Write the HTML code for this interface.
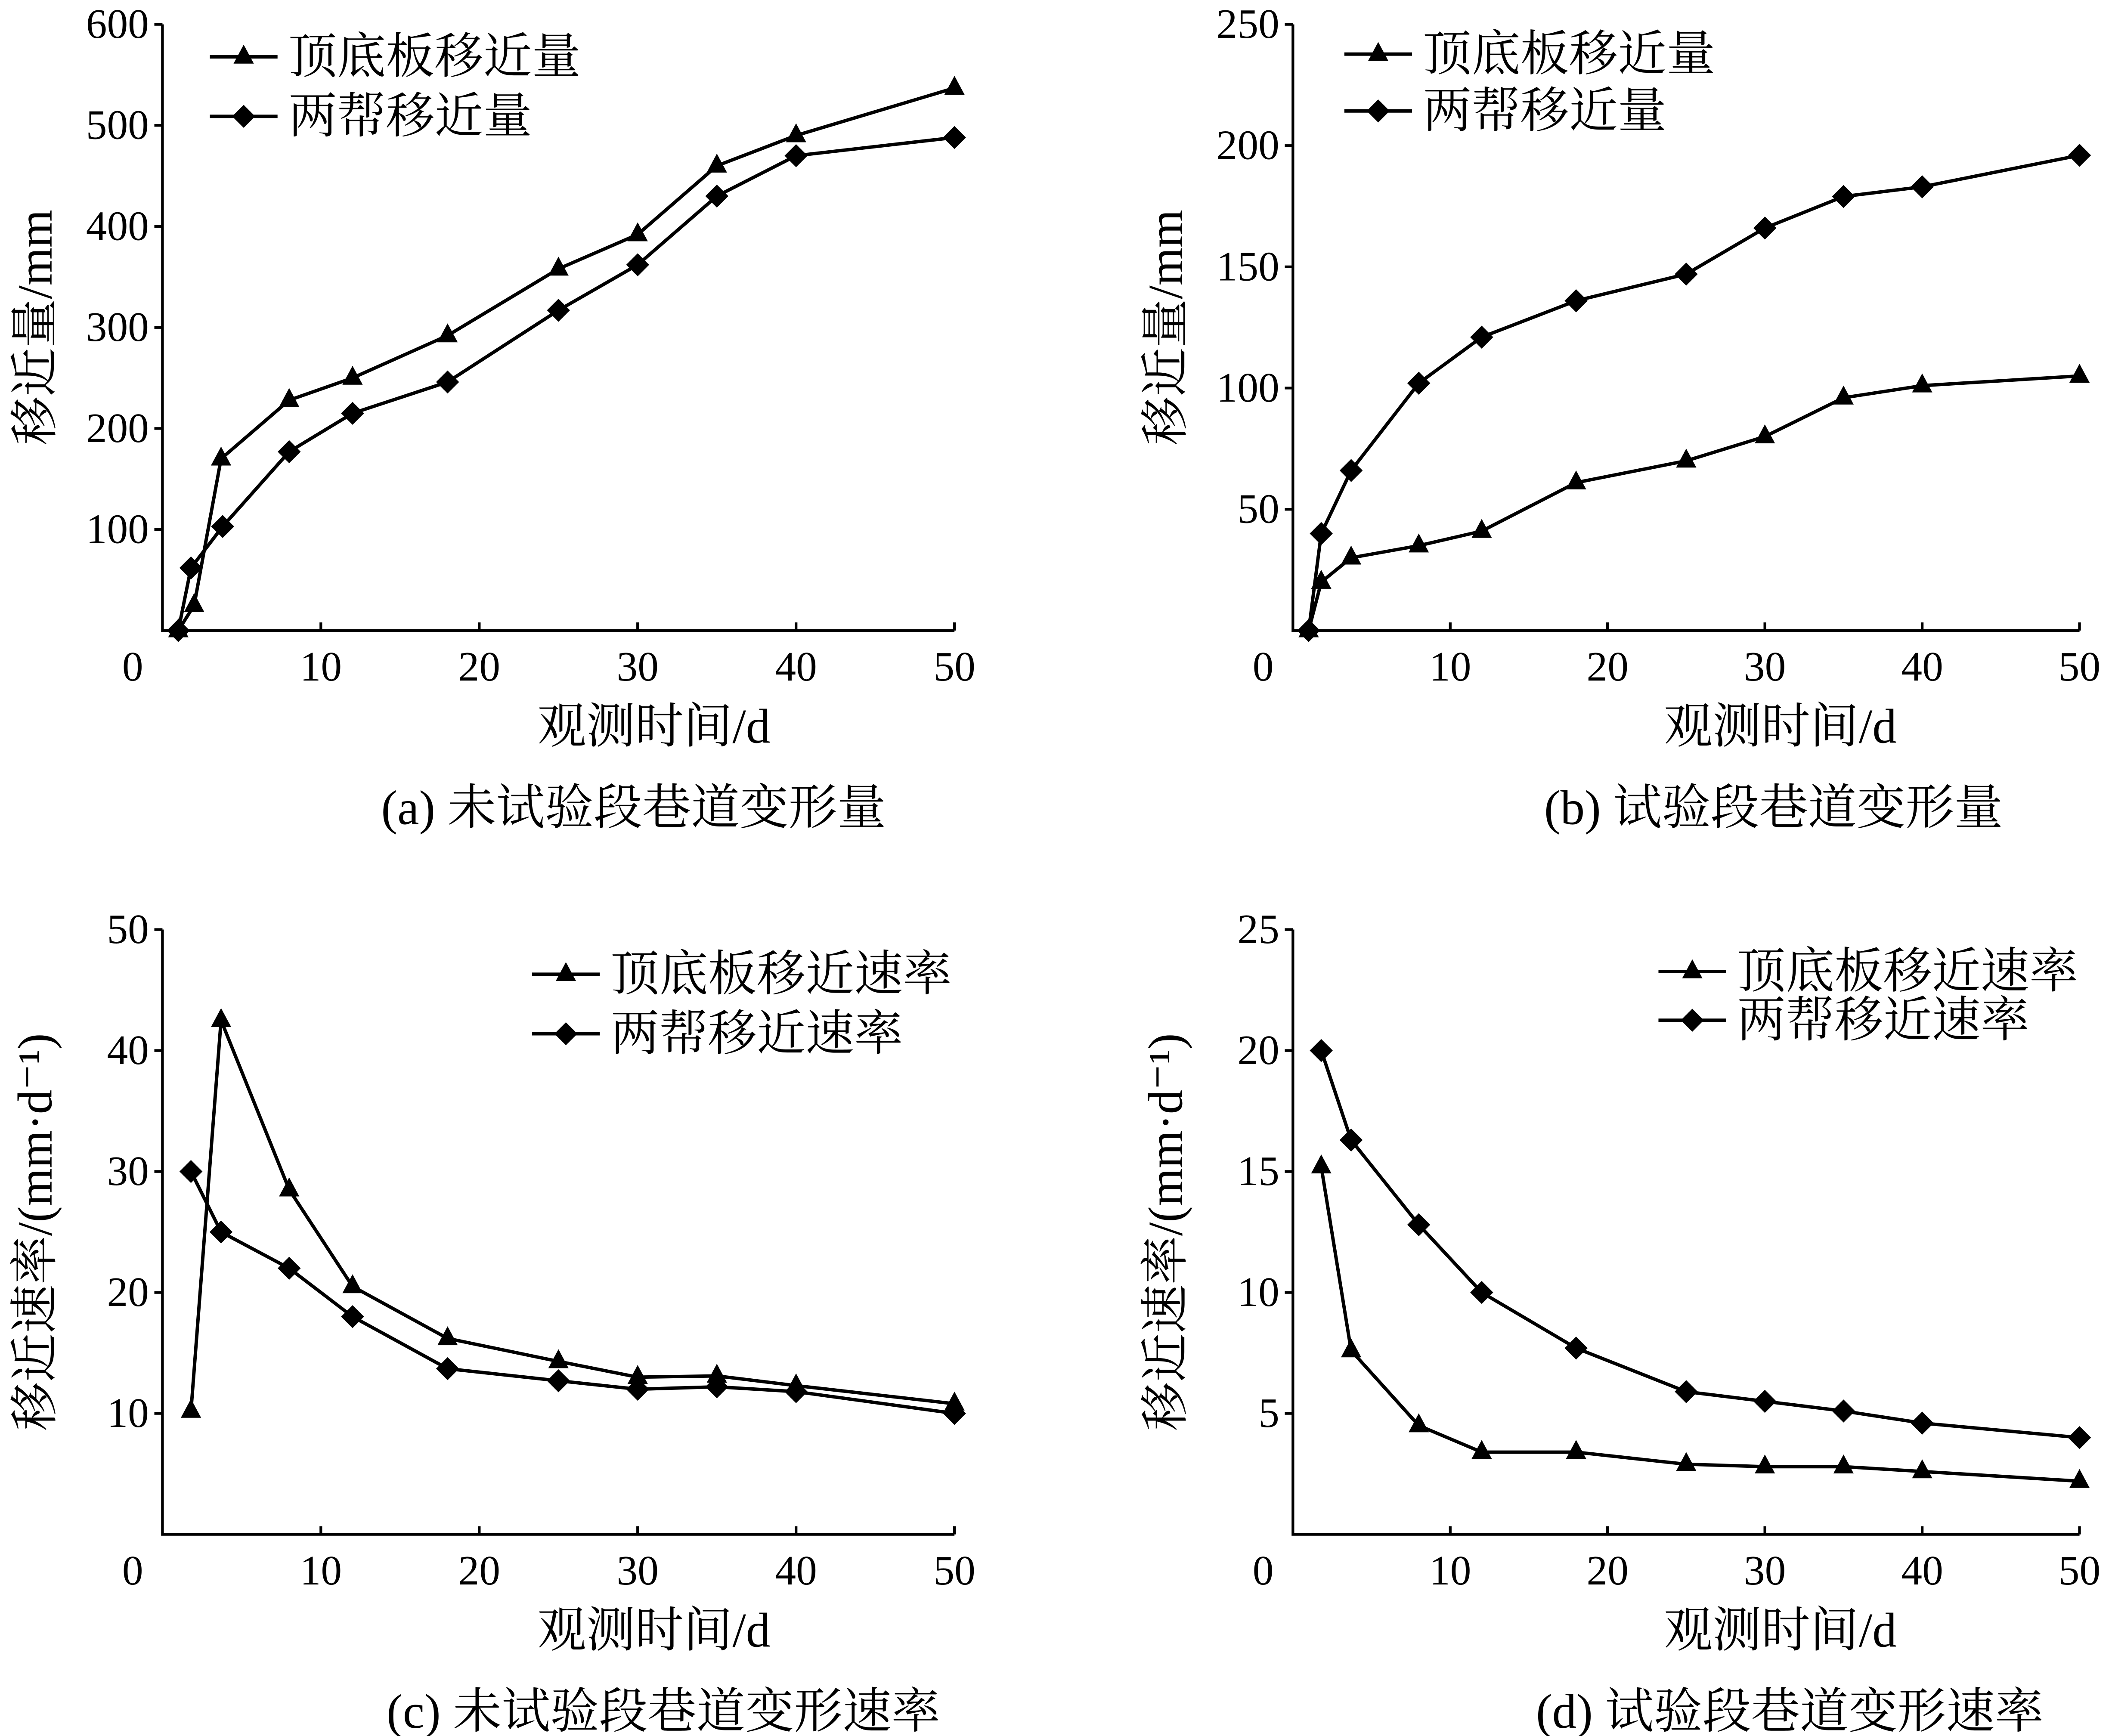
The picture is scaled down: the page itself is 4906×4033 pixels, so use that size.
<!DOCTYPE html>
<html><head><meta charset="utf-8">
<style>
html,body{margin:0;padding:0;background:#fff;}
svg{display:block;}
text{font-family:"Liberation Serif","Noto Serif CJK SC",serif;fill:#000;}
</style></head>
<body>
<svg id="chart" width="4906" height="4033" viewBox="0 0 1560 1283" preserveAspectRatio="none" xmlns="http://www.w3.org/2000/svg"></svg>
<script>
const xTicks=[0,10,20,30,40,50];
// panel a
const aX1=[1,2,3.7,8,12,18,25,30,35,40,50];
const aTri=[0,25,170,228,250,292,358,392,460,490,537];
const aX2=[1,1.8,3.8,8,12,18,25,30,35,40,50];
const aDia=[0,62,103,177,215,246,317,362,430,470,488];
const aYTicks=[100,200,300,400,500,600];
// panel b
const bX=[1,1.8,3.7,8,12,18,25,30,35,40,50];
const bTri=[0,20,30,35,41,61,70,80,96,101,105];
const bDia=[0,40,66,102,121,136,147,166,179,183,196];
const bYTicks=[50,100,150,200,250];
// panel c
const cX=[1.8,3.7,8,12,18,25,30,35,40,50];
const cTri=[10.2,42.5,28.5,20.5,16.2,14.3,13,13.1,12.3,10.8];
const cDia=[30,25,22,18,13.7,12.7,12,12.2,11.8,10];
const cYTicks=[10,20,30,40,50];
// panel d
const dX=[1.8,3.7,8,12,18,25,30,35,40,50];
const dTri=[15.2,7.6,4.5,3.4,3.4,2.9,2.8,2.8,2.6,2.2];
const dDia=[20,16.3,12.8,10,7.7,5.9,5.5,5.1,4.6,4];
const dYTicks=[5,10,15,20,25];

const NS="http://www.w3.org/2000/svg";
const svg=document.getElementById('chart');
function mk(tag,attrs,parent){const e=document.createElementNS(NS,tag);for(const k in attrs)e.setAttribute(k,attrs[k]);(parent||svg).appendChild(e);return e;}
function txt(s,x,y,size,anchor,parent,rot){const t=mk('text',{x:x,y:y,'font-size':size,'text-anchor':anchor||'middle'},parent);if(rot)t.setAttribute('transform','rotate(-90 '+x+' '+y+')');t.textContent=s;return t;}
function tri(g,x,y){return mk('polygon',{points:(x)+','+(y-9)+' '+(x-7.5)+','+(y+5)+' '+(x+7.5)+','+(y+5),fill:'#000'},g);}
function dia(g,x,y){return mk('polygon',{points:x+','+(y-8.5)+' '+(x+8.5)+','+y+' '+x+','+(y+8.5)+' '+(x-8.5)+','+y,fill:'#000'},g);}

function panel(p){
  const g=mk('g',{});
  
  
  const sx=v=>p.x0+(v/50)*(p.x1-p.x0);
  const sy=v=>p.y0-(v/p.ymax)*(p.y0-p.ytop);
  const ax=mk('path',{d:'M'+p.x0+','+p.ytop+' V'+p.y0+' H'+p.x1,stroke:'#000','stroke-width':2,fill:'none'},g);
  
  
  p.yticks.forEach(v=>{
    const y=sy(v);
    mk('line',{x1:p.x0-6,y1:y,x2:p.x0,y2:y,stroke:'#000','stroke-width':2},g);
    const t=txt(String(v),p.x0-10,y+10,31,'end',g);
    
    
  });
  xTicks.forEach(v=>{
    const x=sx(v);
    if(v>0)mk('line',{x1:x,y1:p.y0,x2:x,y2:p.y0-6,stroke:'#000','stroke-width':2},g);
    const t=txt(String(v),v===0?x-22:x,p.y0+37,31,'middle',g);
    
    
  });
  const yl=txt(p.ylabel,p.x0-82,(p.y0+p.ytop)/2,36,'middle',g,true);
  
  
  const xl=txt('观测时间/d',p.titleX,p.y0+83,36,'middle',g);
  
  
  const cap=txt(p.caption,p.capX,p.y0+143,36,'middle',g);
  
  
  [[p.xs1,p.s1,tri,'series-roof-floor'],[p.xs2,p.s2,dia,'series-sides']].forEach(([xs,vals,m,nm])=>{
    const sg=mk('g',{},g);
    
    
    mk('polyline',{points:vals.map((v,i)=>sx(xs[i])+','+sy(v)).join(' '),fill:'none',stroke:'#000','stroke-width':2.5},sg);
    vals.forEach((v,i)=>m(sg,sx(xs[i]),sy(v)));
  });
  const lg=mk('g',{},g);
  
  
  [[p.leg1,tri,0],[p.leg2,dia,1]].forEach(([s,m,i])=>{
    const y=p.legY+i*p.legDy;
    mk('line',{x1:p.legX,y1:y,x2:p.legX+50,y2:y,stroke:'#000','stroke-width':2.5},lg);
    m(lg,p.legX+25,y);
    const t=txt(s,p.legX+58,y+12,36,'start',lg);
    
    
  });
}
panel({name:'panel-a',x0:120,x1:705,y0:466,ytop:18,ymax:600,yticks:aYTicks,xs1:aX1,s1:aTri,xs2:aX2,s2:aDia,titleX:483,
  ylabel:'移近量/mm',caption:'(a)  未试验段巷道变形量',capX:468,leg1:'顶底板移近量',leg2:'两帮移近量',legX:155,legY:42,legDy:44});
panel({name:'panel-b',x0:955,x1:1536,y0:466,ytop:18,ymax:250,yticks:bYTicks,xs1:bX,s1:bTri,xs2:bX,s2:bDia,titleX:1315,
  ylabel:'移近量/mm',caption:'(b)  试验段巷道变形量',capX:1310,leg1:'顶底板移近量',leg2:'两帮移近量',legX:993,legY:40,legDy:42});
panel({name:'panel-c',x0:120,x1:705,y0:1134,ytop:687,ymax:50,yticks:cYTicks,xs1:cX,s1:cTri,xs2:cX,s2:cDia,titleX:483,
  ylabel:'移近速率/(mm·d⁻¹)',caption:'(c)  未试验段巷道变形速率',capX:490,leg1:'顶底板移近速率',leg2:'两帮移近速率',legX:393,legY:720,legDy:44});
panel({name:'panel-d',x0:955,x1:1536,y0:1134,ytop:687,ymax:25,yticks:dYTicks,xs1:dX,s1:dTri,xs2:dX,s2:dDia,titleX:1315,
  ylabel:'移近速率/(mm·d⁻¹)',caption:'(d)  试验段巷道变形速率',capX:1322,leg1:'顶底板移近速率',leg2:'两帮移近速率',legX:1225,legY:718,legDy:36});
</script>
</body></html>
